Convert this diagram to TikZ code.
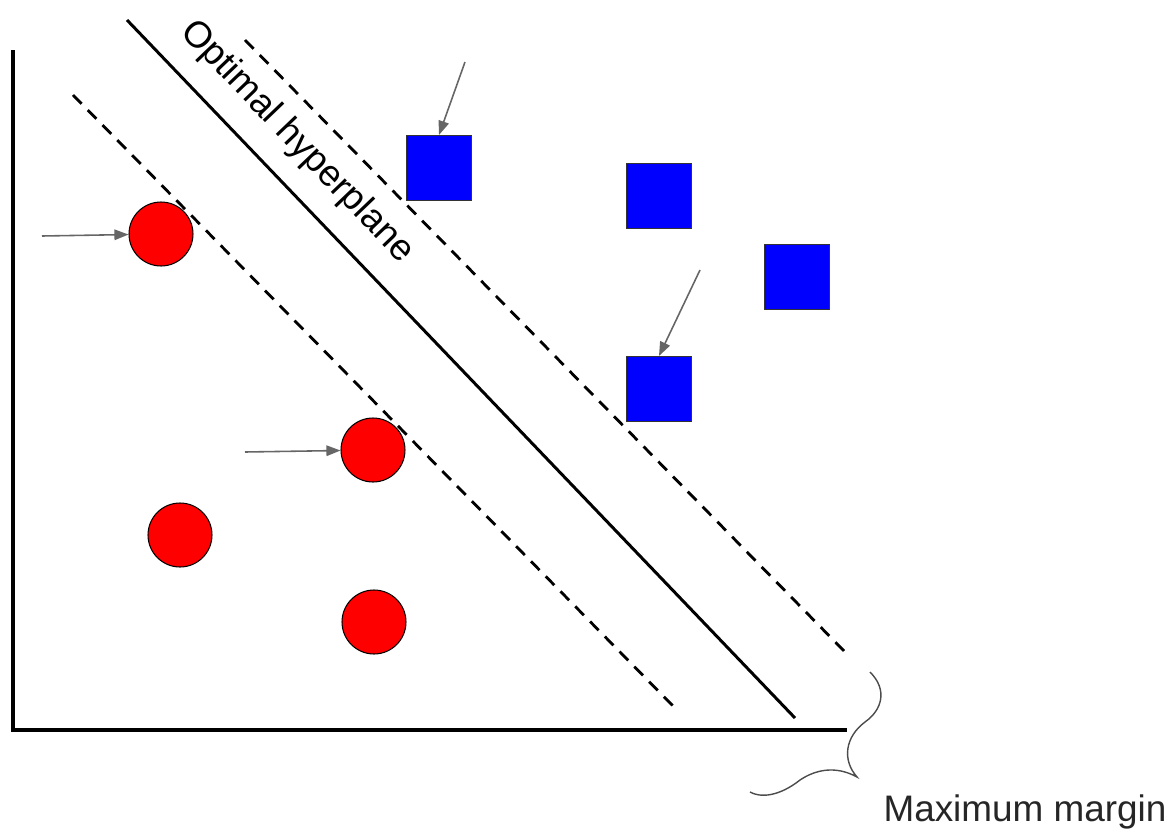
\documentclass[tikz,border=0pt]{standalone}
\usepackage{fontspec}
\setmainfont{Liberation Sans}
\usetikzlibrary{arrows.meta}
\tikzset{
  negpt/.style={circle,draw=black,fill=red,line width=0.6pt,minimum size=1.28cm,inner sep=0pt},
  pospt/.style={rectangle,draw=black!80,fill=blue,line width=0.6pt,minimum size=1.3cm,inner sep=0pt},
  margin/.style={line width=1.6pt,dash pattern=on 7pt off 5pt},
  pointer/.style={draw=black!60,line width=0.9pt,-{Triangle[length=8pt,width=6pt]}},
}
\begin{document}
\begin{tikzpicture}[x=0.02cm,y=-0.02cm]
  \useasboundingbox (0,0) rectangle (1174,832);
  \draw[line width=2.3pt] (13,50) -- (13,730) -- (847,730);
  \coordinate (h1) at (127,20);
  \coordinate (h2) at (795,718);
  \draw[line width=1.7pt] (h1) -- node[pos=0.213,sloped,above=8pt,font=\fontsize{21}{24}\selectfont] (hlabel) {Optimal hyperplane} (h2);
  \coordinate (up1) at (245,40);
  \coordinate (up2) at (848,655);
  \coordinate (lo1) at (73,95);
  \coordinate (lo2) at (675,708);
  \draw[margin] (up1) -- (up2);
  \draw[margin] (lo1) -- (lo2);
  \node[pospt] (b1) at (439,168) {};
  \node[pospt] (b2) at (659,196) {};
  \node[pospt] (b3) at (797,277) {};
  \node[pospt] (b4) at (659,389) {};
  \node[negpt] (r1) at (161,234) {};
  \node[negpt] (r2) at (373,450) {};
  \node[negpt] (r3) at (180,535) {};
  \node[negpt] (r4) at (374,622) {};
  \coordinate (p1) at (42,236);
  \coordinate (p2) at (245,452);
  \coordinate (p3) at (465,62);
  \coordinate (p4) at (700,270);
  \draw[pointer] (p1) -- (r1);
  \draw[pointer] (p2) -- (r2);
  \draw[pointer] (p3) -- (b1.north);
  \draw[pointer] (p4) -- (b4.north);
  % brace
  \draw[black!70,line width=0.8pt] (870,672) .. controls (888,690) and (882,710) .. (865,722)
    .. controls (845,737) and (842,760) .. (857,777)
    .. controls (835,765) and (815,770) .. (800,780)
    .. controls (785,792) and (765,800) .. (750,792);
  \node[font=\fontsize{21}{24}\selectfont,text=black!85] (mlabel) at (1025,812) {Maximum margin};
\end{tikzpicture}
\end{document}
